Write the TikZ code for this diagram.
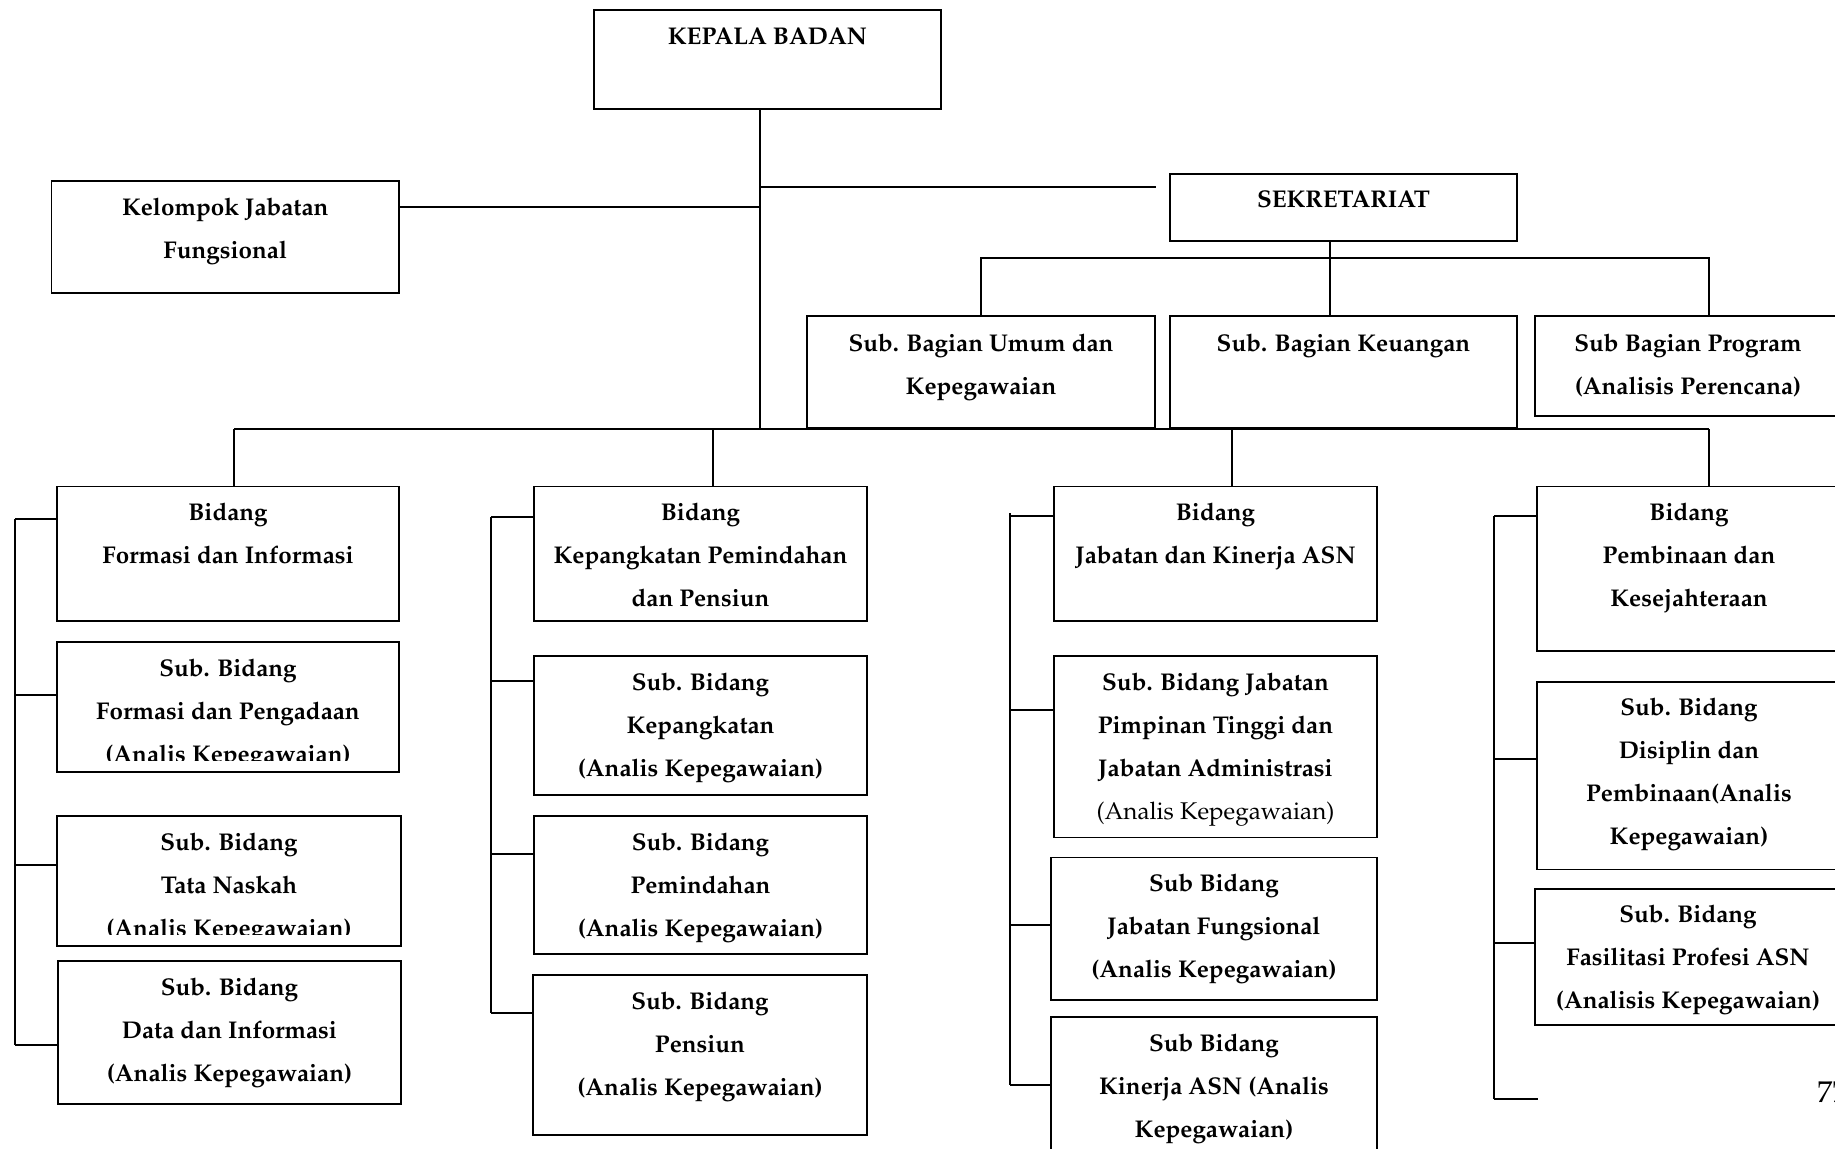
\documentclass[tikz,border=0pt]{standalone}
\usepackage[T1]{fontenc}
\usepackage{mathpazo}
\usetikzlibrary{positioning}

\begin{document}
\begin{tikzpicture}[
  x=0.5pt, y=-0.5pt,
  box/.style={rectangle, draw=black, line width=0.8pt, inner sep=0pt},
  bw/.style={minimum width=#1*0.5pt},
  bh/.style={minimum height=#1*0.5pt},
  txt/.style={anchor=north, align=center, inner sep=0pt, font=\fontsize{12.1}{21.5}\selectfont\bfseries},
  ln/.style={draw=black, line width=0.6pt},
]
\useasboundingbox (0,0) rectangle (1835,1148);

% Pimpinan dan sekretariat (atas)
\node[box, bw=347, bh=99] (kepala) at (767.5, 59.5) {};
\node[box, bw=347.5, bh=112] (kelompok) at (225.25, 237) {};
\node[box, bw=347, bh=67] (sekre) at (1343.5, 207.5) {};
\node[box, bw=348, bh=112] (umum) at (981, 372) {};
\node[box, bw=347, bh=112] (keuangan) at (1343.5, 372) {};
\node[box, bw=306, bh=100] (program) at (1688, 366) {};

\node[txt, below=9pt of kepala.north] (kepalaT) {KEPALA BADAN};
\node[txt, below=8.5pt of kelompok.north] (kelompokT) {Kelompok Jabatan\\Fungsional};
\node[txt, below=8.5pt of sekre.north] (sekreT) {SEKRETARIAT};
\node[txt, below=9pt of umum.north] (umumT) {Sub. Bagian Umum dan\\Kepegawaian};
\node[txt, below=9pt of keuangan.north] (keuanganT) {Sub. Bagian Keuangan};
\node[txt, below=9pt of program.north] (programT) {Sub Bagian Program\\(Analisis Perencana)};

% Bidang (bawah)
\node[box, bw=342, bh=134.4] (bidang1) at (228, 553.8) {};
\node[box, bw=342, bh=130] (sub1a) at (228, 707) {};
\node[box, bw=344, bh=130] (sub1b) at (229, 881) {};
\node[box, bw=343, bh=143] (sub1c) at (229.5, 1032.5) {};

\node[box, bw=333, bh=134.4] (bidang2) at (700.5, 553.8) {};
\node[box, bw=333, bh=139] (sub2a) at (700.5, 725.5) {};
\node[box, bw=333, bh=138] (sub2b) at (700.5, 885) {};
\node[box, bw=334, bh=160] (sub2c) at (700, 1055) {};

\node[box, bw=323, bh=134.4] (bidang3) at (1215.5, 553.8) {};
\node[box, bw=323, bh=181.5] (sub3a) at (1215.5, 746.75) {};
\node[box, bw=326, bh=142.4] (sub3b) at (1214, 928.8) {};
\node[box, bw=326, bh=158] (sub3c) at (1214, 1096) {};

\node[box, bw=304, bh=164.4] (bidang4) at (1689, 568.8) {};
\node[box, bw=304, bh=187.9] (sub4a) at (1689, 775.65) {};
\node[box, bw=306, bh=136.4] (sub4b) at (1688, 957) {};

\node[txt, below=8.5pt of bidang1.north] (bidang1T) {Bidang\\Formasi dan Informasi};
\begin{scope}
  \clip (sub1a.north west) rectangle (sub1a.east |- 0,760);
  \node[txt, below=8.5pt of sub1a.north] (sub1aT) {Sub. Bidang\\Formasi dan Pengadaan\\(Analis Kepegawaian)};
\end{scope}
\begin{scope}
  \clip (sub1b.north west) rectangle (sub1b.east |- 0,934);
  \node[txt, below=8.5pt of sub1b.north] (sub1bT) {Sub. Bidang\\Tata Naskah\\(Analis Kepegawaian)};
\end{scope}
\node[txt, below=8.5pt of sub1c.north] (sub1cT) {Sub. Bidang\\Data dan Informasi\\(Analis Kepegawaian)};

\node[txt, below=8.5pt of bidang2.north] (bidang2T) {Bidang\\Kepangkatan Pemindahan\\dan Pensiun};
\node[txt, below=8.5pt of sub2a.north] (sub2aT) {Sub. Bidang\\Kepangkatan\\(Analis Kepegawaian)};
\node[txt, below=8.5pt of sub2b.north] (sub2bT) {Sub. Bidang\\Pemindahan\\(Analis Kepegawaian)};
\node[txt, below=8.5pt of sub2c.north] (sub2cT) {Sub. Bidang\\Pensiun\\(Analis Kepegawaian)};

\node[txt, below=8.5pt of bidang3.north] (bidang3T) {Bidang\\Jabatan dan Kinerja ASN};
\node[txt, below=8.5pt of sub3a.north] (sub3aT) {Sub. Bidang Jabatan\\Pimpinan Tinggi dan\\Jabatan Administrasi\\{\mdseries(Analis Kepegawaian)}};
\node[txt, below=8.5pt of sub3b.north] (sub3bT) {Sub Bidang\\Jabatan Fungsional\\(Analis Kepegawaian)};
\node[txt, below=8.5pt of sub3c.north] (sub3cT) {Sub Bidang\\Kinerja ASN (Analis\\Kepegawaian)};

\node[txt, below=8.5pt of bidang4.north] (bidang4T) {Bidang\\Pembinaan dan\\Kesejahteraan};
\node[txt, below=8.5pt of sub4a.north] (sub4aT) {Sub. Bidang\\Disiplin dan\\Pembinaan(Analis\\Kepegawaian)};
\node[txt, below=8.5pt of sub4b.north] (sub4bT) {Sub. Bidang\\Fasilitasi Profesi ASN\\(Analisis Kepegawaian)};

% nomor halaman
\node[anchor=base west, inner sep=0pt, font=\fontsize{15}{15}\selectfont] (hal) at (1817, 1102) {77};

% Garis atas
\coordinate (t1) at (760, 187);
\coordinate (t2) at (760, 207);
\coordinate (t3) at (760, 429);
\coordinate (s1) at (1156, 187);
\coordinate (sb) at (1330, 258);
\coordinate (r1) at (1709, 258);
\draw[ln] (kepala.south -| t3) -- (t3);
\draw[ln] (t1) -- (s1);
\draw[ln] (kelompok.east |- t2) -- (t2);
\draw[ln] (sekre.south -| sb) -- (keuangan.north -| sb);
\draw[ln] (umum.north) |- (r1) -- (r1 |- program.north);

% Garis bawah
\coordinate (b1) at (234, 429);
\coordinate (b2) at (713, 429);
\coordinate (b3) at (1232, 429);
\coordinate (b4) at (1709, 429);
\draw[ln] (b1) -- (b4);
\foreach \c/\n in {b1/bidang1, b2/bidang2, b3/bidang3, b4/bidang4}
  \draw[ln] (\c) -- (\c |- \n.north);

% Kurung kiri tiap bidang
\coordinate (g1) at (15, 519);   \coordinate (h1) at (15, 1045);
\coordinate (g2) at (491, 517);  \coordinate (h2) at (491, 1013);
\coordinate (g3) at (1010, 513); \coordinate (h3) at (1010, 1085);
\coordinate (g4) at (1494, 516); \coordinate (h4) at (1494, 1099);
\coordinate (e4) at (1538, 1099);
\draw[ln] (g1) -- (h1);
\draw[ln] (g2) -- (h2);
\draw[ln] (g3) -- (h3);
\draw[ln] (g4) -- (h4);
\foreach \y/\n in {519/bidang1, 695/sub1a, 865/sub1b, 1045/sub1c}
  \draw[ln] (g1 |- 0,\y) -- (\n.west |- 0,\y);
\foreach \y/\n in {517/bidang2, 681/sub2a, 854/sub2b, 1013/sub2c}
  \draw[ln] (g2 |- 0,\y) -- (\n.west |- 0,\y);
\foreach \y/\n in {516/bidang3, 710/sub3a, 925/sub3b, 1085/sub3c}
  \draw[ln] (g3 |- 0,\y) -- (\n.west |- 0,\y);
\foreach \y/\n in {516/bidang4, 759/sub4a, 943/sub4b}
  \draw[ln] (g4 |- 0,\y) -- (\n.west |- 0,\y);
\draw[ln] (h4) -- (e4);

\end{tikzpicture}
\end{document}
